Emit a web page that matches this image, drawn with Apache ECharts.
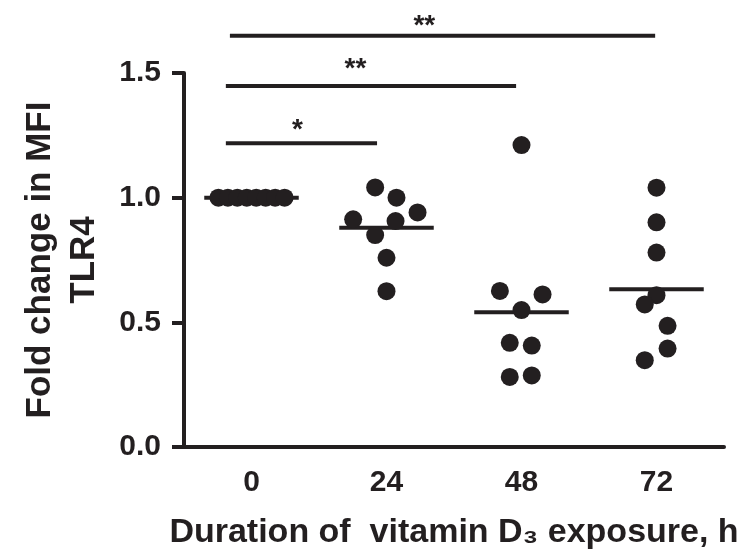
<!DOCTYPE html>
<html>
<head>
<meta charset="utf-8">
<script src="https://cdn.jsdelivr.net/npm/echarts@6/dist/echarts.min.js"></script>
<style>
  html, body { margin: 0; padding: 0; background: #fff; }
  #tlr4-chart { width: 744px; height: 556px; }
</style>
</head>
<body>
<div id="tlr4-chart"></div>
<script>
// exposure times (h)
var groups = ['0', '24', '48', '72'];

// fold change in MFI, one value per donor, with the horizontal spread of each dot
var vals0 = [1.0, 1.0, 1.0, 1.0, 1.0, 1.0, 1.0, 1.0];
var jit0 = [-0.245, -0.175, -0.105, -0.035, 0.035, 0.105, 0.175, 0.245];
var vals24 = [1.041, 1.000, 0.941, 0.913, 0.906, 0.850, 0.759, 0.625];
var jit24 = [-0.084, 0.074, 0.23, -0.247, 0.067, -0.084, 0, 0];
var vals48 = [1.211, 0.626, 0.612, 0.549, 0.418, 0.407, 0.281, 0.287];
var jit48 = [0, -0.16, 0.156, 0, -0.087, 0.076, -0.087, 0.076];
var vals72 = [1.040, 0.901, 0.780, 0.609, 0.572, 0.486, 0.395, 0.348];
var jit72 = [0, 0, 0, 0, -0.087, 0.082, 0.082, -0.087];

// group means (horizontal bars)
var means = [1.0, 0.879, 0.540, 0.633];

// significance brackets
var sigFrom = [-0.19, -0.19, -0.16];
var sigTo = [0.93, 1.96, 2.99];
var sigY = [1.218, 1.448, 1.649];
var sigText = ['*', '**', '**'];
var sigTextX = [0.34, 0.77, 1.28];
var sigTextY = [1.295, 1.540, 1.711];

var ink = '#231f20';
var font = 'Liberation Sans';

var allVals = [vals0, vals24, vals48, vals72];
var allJit = [jit0, jit24, jit48, jit72];
var points = [];
allVals.forEach(function (vals, g) {
  vals.forEach(function (v, k) {
    points.push([g + allJit[g][k], v]);
  });
});

var meanData = means.map(function (m, g) { return [g, m]; });
var sigData = sigY.map(function (y, k) {
  return [sigFrom[k], sigTo[k], y, sigTextX[k], sigTextY[k], k];
});

var myChart = echarts.init(document.getElementById('tlr4-chart'));

var option = {
  animation: false,
  grid: { left: 184, right: 20, top: 73, bottom: 109 },
  xAxis: [
    {
      type: 'category',
      data: groups,
      boundaryGap: true,
      axisLine: { onZero: false, lineStyle: { color: ink, width: 4 } },
      axisTick: { alignWithLabel: true, length: 9, lineStyle: { color: ink, width: 4 } },
      axisLabel: { color: ink, fontFamily: font, fontWeight: 'bold', fontSize: 30, margin: 21 },
      name: 'Duration of  vitamin D\u2083 exposure, h',
      nameLocation: 'middle',
      nameGap: 69,
      nameTextStyle: { color: ink, fontFamily: font, fontWeight: 'bold', fontSize: 34 }
    },
    {
      type: 'value',
      min: -0.5,
      max: 3.5,
      show: false
    }
  ],
  yAxis: {
    type: 'value',
    min: 0,
    max: 1.5,
    interval: 0.5,
    splitLine: { show: false },
    axisLine: { show: true, onZero: false, lineStyle: { color: ink, width: 4 } },
    axisTick: { show: true, length: 12, lineStyle: { color: ink, width: 4 } },
    axisLabel: {
      color: ink, fontFamily: font, fontWeight: 'bold', fontSize: 30, margin: 23,
      formatter: function (v) { return v.toFixed(1); }
    },
    name: 'Fold change in MFI\nTLR4',
    nameLocation: 'middle',
    nameRotate: 90,
    nameGap: 78,
    nameTextStyle: { color: ink, fontFamily: font, fontWeight: 'bold', fontSize: 35, lineHeight: 44 }
  },
  series: [
    {
      type: 'scatter',
      xAxisIndex: 1,
      data: points,
      symbol: 'circle',
      symbolSize: 18,
      itemStyle: { color: ink, opacity: 1 },
      clip: false
    },
    {
      type: 'custom',
      xAxisIndex: 1,
      data: meanData,
      clip: false,
      renderItem: function (params, api) {
        var x = api.value(0), y = api.value(1);
        var a = api.coord([x - 0.35, y]);
        var b = api.coord([x + 0.35, y]);
        return {
          type: 'line',
          shape: { x1: a[0], y1: a[1], x2: b[0], y2: b[1] },
          style: { stroke: ink, lineWidth: 4 }
        };
      }
    },
    {
      type: 'custom',
      xAxisIndex: 1,
      data: sigData,
      clip: false,
      renderItem: function (params, api) {
        var a = api.coord([api.value(0), api.value(2)]);
        var b = api.coord([api.value(1), api.value(2)]);
        var t = api.coord([api.value(3), api.value(4)]);
        return {
          type: 'group',
          children: [
            {
              type: 'line',
              shape: { x1: a[0], y1: a[1], x2: b[0], y2: b[1] },
              style: { stroke: ink, lineWidth: 4 }
            },
            {
              type: 'text',
              x: t[0],
              y: t[1] + 6,
              style: {
                text: sigText[api.value(5)],
                fill: ink,
                font: 'bold 28px "Liberation Sans"',
                align: 'center',
                verticalAlign: 'middle'
              }
            }
          ]
        };
      }
    }
  ]
};

myChart.setOption(option);
</script>
</body>
</html>
